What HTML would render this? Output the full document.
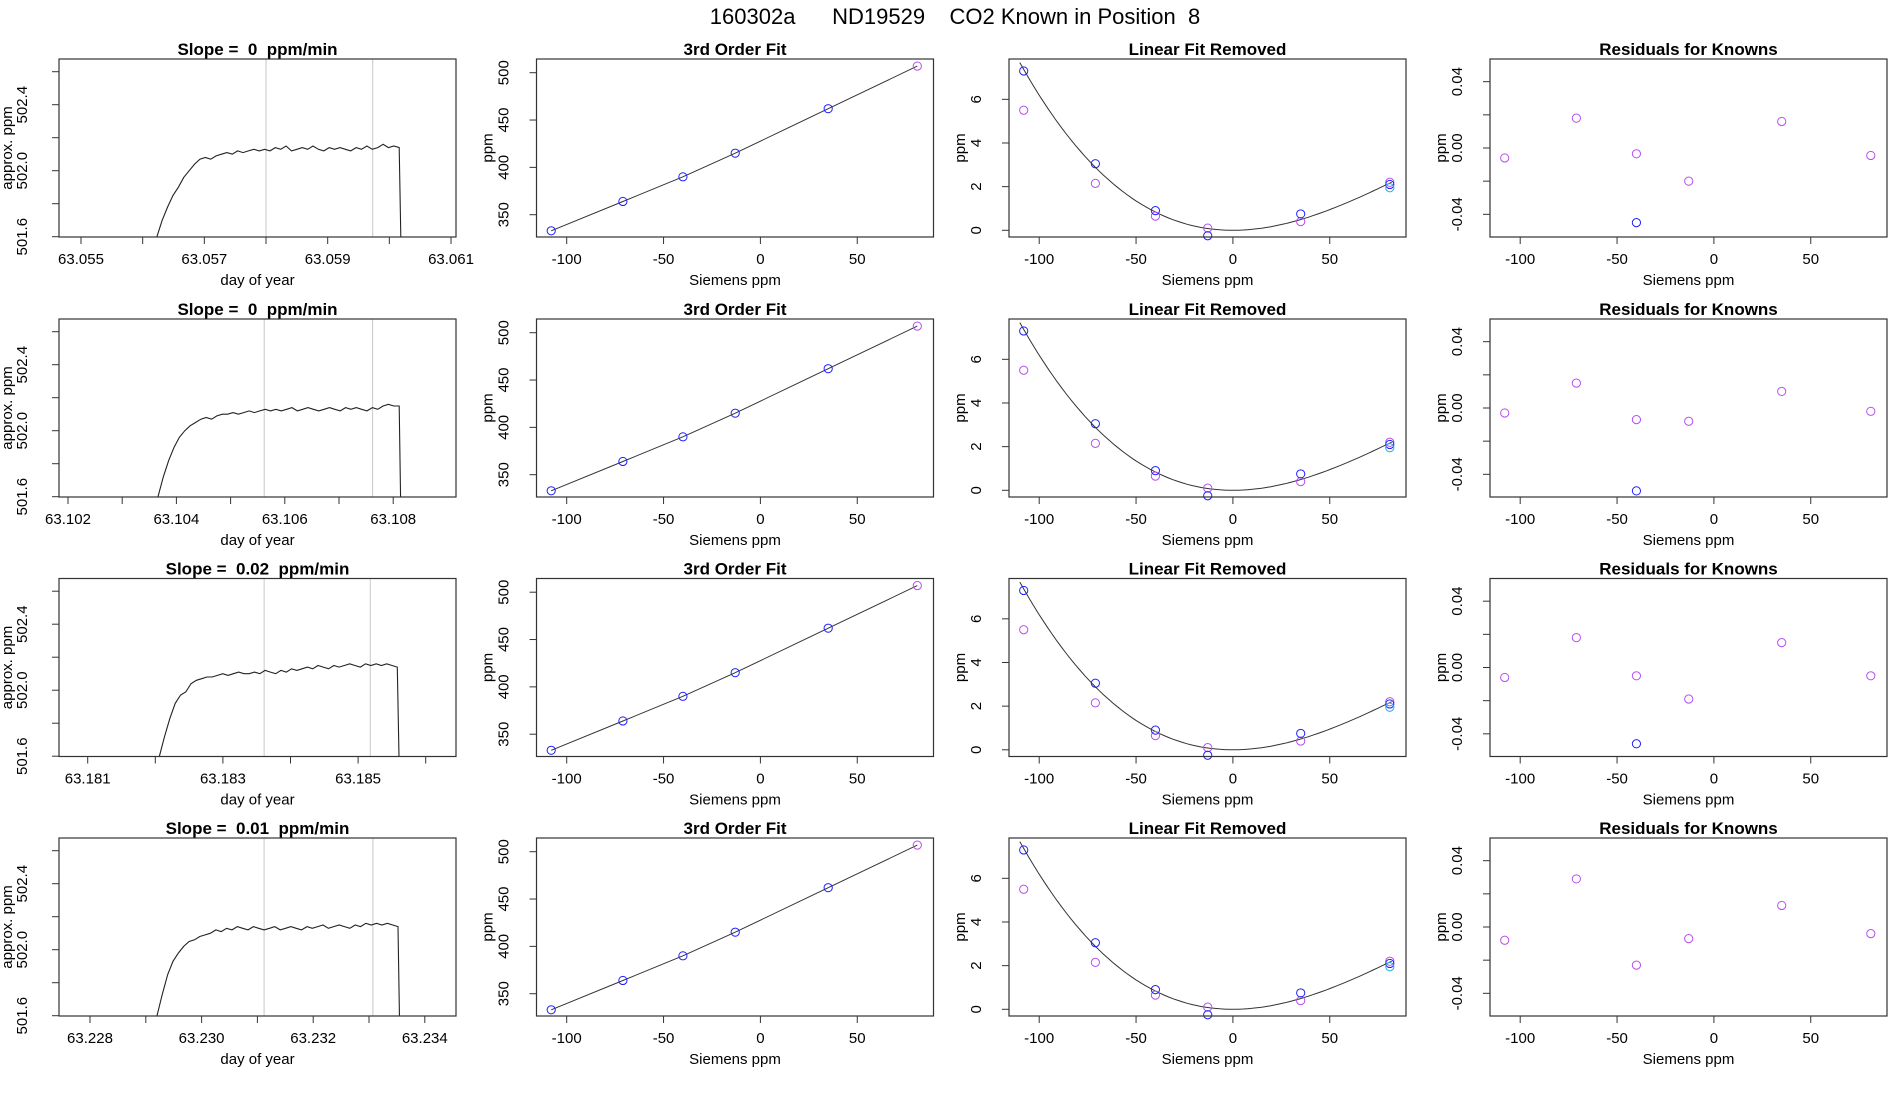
<!DOCTYPE html>
<html><head><meta charset="utf-8">
<style>
html,body{margin:0;padding:0;background:#fff;}
svg{display:block;font-family:"Liberation Sans",Arial,sans-serif;}
text{white-space:pre;}
</style></head>
<body>
<svg id="chart" width="1900" height="1100" viewBox="0 0 1900 1100">
<rect width="1900" height="1100" fill="#fff"/>
<text x="955" y="24" font-size="22" text-anchor="middle" xml:space="preserve">160302a      ND19529    CO2 Known in Position  8</text>
</svg>
<script>
// ---------- data ----------
const slopeLabels = ["0", "0", "0.02", "0.01"];
const timeTickStart = [63.055, 63.102, 63.181, 63.228];
const timeTickCount = [7, 7, 6, 7];
const timeLabelEvery = 2;
const timeAxisA = [63.055, 63.102, 63.181, 63.228];
const timeAxisApx = [22, 9, 28.7, 31];
const timeAxisPxPerMilli = [61.67, 54.2, 67.6, 55.8];
const grayLineTimes = [[63.058, 63.05973], [63.10562, 63.10762], [63.18361, 63.18518], [63.23112, 63.23307]];
const traceStart = [63.05623, 63.10366, 63.18206, 63.2292];
const traceEnd = [63.06019, 63.10814, 63.18561, 63.23355];
const traceValues = [
 [501.6,501.7,501.78,501.85,501.9,501.96,502.0,502.04,502.07,502.08,502.07,502.09,502.1,502.11,502.1,502.12,502.11,502.12,502.13,502.12,502.13,502.12,502.14,502.13,502.15,502.12,502.13,502.14,502.13,502.15,502.13,502.12,502.14,502.13,502.14,502.13,502.12,502.14,502.13,502.15,502.13,502.14,502.16,502.14,502.15,502.14],
 [501.6,501.72,501.82,501.9,501.96,502.0,502.03,502.05,502.07,502.08,502.07,502.09,502.1,502.1,502.11,502.1,502.11,502.12,502.11,502.12,502.13,502.12,502.13,502.12,502.13,502.14,502.12,502.13,502.14,502.13,502.12,502.13,502.14,502.13,502.12,502.14,502.13,502.14,502.13,502.12,502.14,502.13,502.15,502.16,502.15,502.15],
 [501.6,501.72,501.83,501.92,501.97,501.99,502.04,502.06,502.07,502.08,502.08,502.09,502.1,502.09,502.1,502.11,502.1,502.1,502.11,502.1,502.12,502.11,502.1,502.12,502.11,502.13,502.12,502.13,502.14,502.13,502.15,502.14,502.13,502.15,502.14,502.15,502.16,502.15,502.14,502.16,502.15,502.16,502.15,502.16,502.15,502.14],
 [501.6,501.73,501.85,501.93,501.98,502.02,502.05,502.06,502.08,502.09,502.1,502.12,502.11,502.13,502.12,502.14,502.13,502.12,502.14,502.13,502.12,502.13,502.14,502.12,502.13,502.14,502.13,502.12,502.14,502.13,502.14,502.15,502.13,502.14,502.15,502.14,502.13,502.15,502.14,502.16,502.15,502.16,502.15,502.16,502.15,502.14]
];
const siemens = [-108, -71, -40, -13, 35, 81];
const knownPpm = [333, 364, 390, 415, 462, 507];
const linRemovedBlue = [7.3, 3.05, 0.9, -0.25, 0.75, 2.1];
const linRemovedPurple = [5.5, 2.15, 0.65, 0.1, 0.4, 2.2];
const linRemovedCyan = [1.95];
const residuals = [
 [-0.006, 0.018, -0.0035, -0.02, 0.016, -0.0045],
 [-0.003, 0.015, -0.007, -0.008, 0.01, -0.002],
 [-0.006, 0.018, -0.005, -0.019, 0.015, -0.005],
 [-0.008, 0.029, -0.023, -0.007, 0.013, -0.004]
];
const residualBlue = [-0.045, -0.05, -0.046, null];
const siemensTicks = [-100, -50, 0, 50];
const ppmTicks = [350, 400, 450, 500];
const linTicks = [0, 2, 4, 6];
const resTicks = [-0.04, -0.02, 0, 0.02, 0.04];
const resLabels = ["-0.04", "", "0.00", "", "0.04"];
const approxTicks = [501.6, 501.8, 502.0, 502.2, 502.4, 502.6];
const approxLabels = ["501.6", "", "502.0", "", "502.4", ""];

// ---------- layout ----------
const NS = "http://www.w3.org/2000/svg";
const svg = document.getElementById('chart');
const colX = [59, 536.5, 1009, 1490];
const rowY = [59, 319, 578.5, 838];
const W = 397, H = 178;
const BLUE = "#1f1fff", PURPLE = "#b84ef0", CYAN = "#2ab0f0";

function mk(tag, attrs, parent) {
  const e = document.createElementNS(NS, tag);
  for (const k in attrs) e.setAttribute(k, attrs[k]);
  (parent || svg).appendChild(e);
  return e;
}
function txt(x, y, s, size, parent, opts) {
  const t = mk('text', Object.assign({x: x, y: y, 'font-size': size, 'text-anchor': 'middle'}, opts || {}), parent);
  t.textContent = s;
  return t;
}
const sx = v => 30.2 + (v + 100) * 1.937;

function frame(g, x0, y0, title) {
  const r = mk('rect', {x: x0, y: y0, width: W, height: H, fill: 'none', stroke: '#333', 'stroke-width': 1.2}, g);
  
  
  const t = txt(x0 + W / 2, y0 - 4, title, 17, g, {'font-weight': 'bold'});
  
  
}
function xAxis(g, x0, y0, ticks, fx, labels, title) {
  ticks.forEach((v, i) => {
    const x = x0 + fx(v);
    mk('line', {x1: x, x2: x, y1: y0 + H, y2: y0 + H + 7, stroke: '#333'}, g);
    if (labels[i]) {
      const t = txt(x, y0 + H + 27, labels[i], 15, g);
      
      
    }
  });
  const t = txt(x0 + W / 2, y0 + H + 48, title, 15, g);
  
  
}
function yAxis(g, x0, y0, ticks, fy, labels, title, lx, tx) {
  ticks.forEach((v, i) => {
    const y = y0 + fy(v);
    mk('line', {x1: x0, x2: x0 - 7, y1: y, y2: y, stroke: '#333'}, g);
    if (labels[i]) {
      const t = txt(0, 0, labels[i], 15, g, {transform: `translate(${x0 - lx},${y}) rotate(-90)`});
      
      
    }
  });
  const t = txt(0, 0, title, 15, g, {transform: `translate(${x0 - tx},${y0 + H / 2}) rotate(-90)`});
  
  
}
function circle(g, x, y, color, name) {
  const c = mk('circle', {cx: x, cy: y, r: 4.1, fill: 'none', stroke: color, 'stroke-width': 1}, g);
  
  
}

const defs = mk('defs', {});

for (let r = 0; r < 4; r++) {
  const y0 = rowY[r];
  // ---- panel 1: trace ----
  {
    const x0 = colX[0];
    const g = mk('g', {});
    
    
    const fx = t => timeAxisApx[r] + (t - timeAxisA[r]) * 1000 * timeAxisPxPerMilli[r];
    const fy = v => 177.7 - (v - 501.6) * 165;
    const cp = mk('clipPath', {id: 'clip' + r}, defs);
    mk('rect', {x: x0, y: y0, width: W, height: H}, cp);
    grayLineTimes[r].forEach(t => {
      const l = mk('line', {x1: x0 + fx(t), x2: x0 + fx(t), y1: y0, y2: y0 + H, stroke: '#c8c8c8', 'stroke-width': 1}, g);
      
      
    });
    const vals = traceValues[r];
    const n = vals.length;
    let d = '';
    vals.forEach((v, i) => {
      const t = traceStart[r] + (traceEnd[r] - traceStart[r] - 0.00003) * i / (n - 1);
      d += (i ? 'L' : 'M') + (x0 + fx(t)).toFixed(1) + ',' + (y0 + fy(v)).toFixed(1);
    });
    d += 'L' + (x0 + fx(traceEnd[r])).toFixed(1) + ',' + (y0 + fy(501.5)).toFixed(1);
    const p = mk('path', {d: d, fill: 'none', stroke: '#222', 'stroke-width': 1.1, 'clip-path': `url(#clip${r})`}, g);
    
    
    frame(g, x0, y0, 'Slope =  ' + slopeLabels[r] + '  ppm/min');
    const ticks = [], labels = [];
    for (let i = 0; i < timeTickCount[r]; i++) {
      const v = timeTickStart[r] + i * 0.001;
      ticks.push(v);
      labels.push(i % timeLabelEvery === 0 ? v.toFixed(3) : '');
    }
    xAxis(g, x0, y0, ticks, fx, labels, 'day of year');
    yAxis(g, x0, y0, approxTicks, fy, approxLabels, 'approx. ppm', 32, 47);
  }
  // ---- panel 2: 3rd order fit ----
  {
    const x0 = colX[1];
    const g = mk('g', {});
    
    
    const fy = v => 13.7 + (500 - v) * 0.9467;
    let d = '';
    siemens.forEach((s, i) => { d += (i ? 'L' : 'M') + (x0 + sx(s)).toFixed(1) + ',' + (y0 + fy(knownPpm[i])).toFixed(1); });
    const p = mk('path', {d: d, fill: 'none', stroke: '#333', 'stroke-width': 1}, g);
    
    
    siemens.forEach((s, i) => circle(g, x0 + sx(s), y0 + fy(knownPpm[i]), i === siemens.length - 1 ? PURPLE : BLUE, 'known-point'));
    frame(g, x0, y0, '3rd Order Fit');
    xAxis(g, x0, y0, siemensTicks, sx, siemensTicks.map(String), 'Siemens ppm');
    yAxis(g, x0, y0, ppmTicks, fy, ppmTicks.map(String), 'ppm', 28, 44);
  }
  // ---- panel 3: linear fit removed ----
  {
    const x0 = colX[2];
    const g = mk('g', {});
    
    
    const fy = v => 171.3 - v * 21.83;
    // least-squares fit y = a x^2 + c x^3 to blue points
    let s4 = 0, s5 = 0, s6 = 0, sy2 = 0, sy3 = 0;
    siemens.forEach((x, i) => { const y = linRemovedBlue[i]; s4 += x ** 4; s5 += x ** 5; s6 += x ** 6; sy2 += y * x * x; sy3 += y * x ** 3; });
    const det = s4 * s6 - s5 * s5;
    const a = (sy2 * s6 - s5 * sy3) / det, c = (s4 * sy3 - s5 * sy2) / det;
    const cp = mk('clipPath', {id: 'clipL' + r}, defs);
    mk('rect', {x: x0, y: y0, width: W, height: H}, cp);
    let d = '';
    for (let k = 0; k <= 80; k++) {
      const x = -110 + k * 192 / 80;
      d += (k ? 'L' : 'M') + (x0 + sx(x)).toFixed(1) + ',' + (y0 + fy(a * x * x + c * x * x * x)).toFixed(1);
    }
    const p = mk('path', {d: d, fill: 'none', stroke: '#333', 'stroke-width': 1, 'clip-path': `url(#clipL${r})`}, g);
    
    
    siemens.forEach((s, i) => circle(g, x0 + sx(s), y0 + fy(linRemovedPurple[i]), PURPLE, 'purple-point'));
    siemens.forEach((s, i) => circle(g, x0 + sx(s), y0 + fy(linRemovedBlue[i]), BLUE, 'blue-point'));
    linRemovedCyan.forEach(v => circle(g, x0 + sx(siemens[5]), y0 + fy(v), CYAN, 'cyan-point'));
    frame(g, x0, y0, 'Linear Fit Removed');
    xAxis(g, x0, y0, siemensTicks, sx, siemensTicks.map(String), 'Siemens ppm');
    yAxis(g, x0, y0, linTicks, fy, linTicks.map(String), 'ppm', 28, 44);
  }
  // ---- panel 4: residuals ----
  {
    const x0 = colX[3];
    const g = mk('g', {});
    
    
    const fy = v => 89 - v * 1658;
    residuals[r].forEach((v, i) => circle(g, x0 + sx(siemens[i]), y0 + fy(v), PURPLE, 'residual-point'));
    if (residualBlue[r] !== null) circle(g, x0 + sx(siemens[2]), y0 + fy(residualBlue[r]), BLUE, 'residual-blue-point');
    frame(g, x0, y0, 'Residuals for Knowns');
    xAxis(g, x0, y0, siemensTicks, sx, siemensTicks.map(String), 'Siemens ppm');
    yAxis(g, x0, y0, resTicks, fy, resLabels, 'ppm', 28, 44);
  }
}
</script>
</body></html>
